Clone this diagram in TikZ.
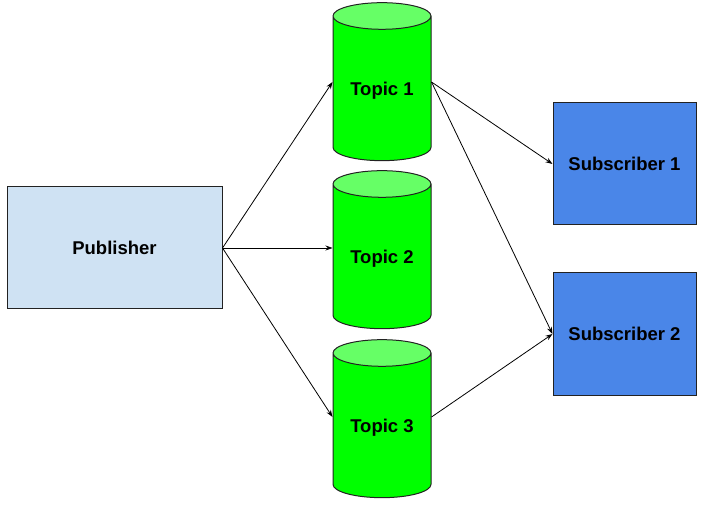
\documentclass[tikz,border=0pt]{standalone}
\usepackage{fontspec}
\setmainfont{Liberation Sans}
\usetikzlibrary{positioning,shapes.geometric,arrows.meta}
\definecolor{pubfill}{HTML}{CFE2F3}
\definecolor{subfill}{HTML}{4A86E8}
\definecolor{topicbody}{HTML}{00FF00}
\definecolor{topictop}{HTML}{66FF66}
\definecolor{edge}{HTML}{222222}
\begin{document}
\begin{tikzpicture}[x=1pt, y=1pt, node distance=12pt,
    font=\fontsize{18.5pt}{22pt}\selectfont\bfseries,
    pub/.style={rectangle, draw=edge, line width=1pt, fill=pubfill, minimum width=215pt, minimum height=122pt},
    sub/.style={rectangle, draw=edge, line width=1pt, fill=subfill, minimum width=143pt, minimum height=122pt},
    topic/.style={cylinder, shape border rotate=90, aspect=0.38, draw=edge, line width=1pt,
      cylinder uses custom fill, cylinder body fill=topicbody, cylinder end fill=topictop,
      minimum width=98pt, minimum height=158pt},
    a/.style={-{Stealth[length=7pt,width=5pt]}, line width=0.8pt}]
    \useasboundingbox (0,0) rectangle (702,-505);
    \node[pub] (P) at (114.5,-248) {Publisher};
    \node[topic] (T1) at (382,-91) {Topic 1};
    \node[topic] (T2) at (382,-259) {Topic 2};
    \node[topic] (T3) at (382,-428) {Topic 3};
    \node[sub] (S1) at (624.5,-164) {Subscriber 1};
    \node[sub, below=47pt of S1] (S2) {Subscriber 2};

    % arrows meet the cylinders a little above their centres
    \draw[a] (P.east) -- ([yshift=9pt]T1.west);
    \draw[a] (P.east) -- (P.east -| T2.west);
    \draw[a] (P.east) -- ([yshift=11pt]T3.west);
    \draw[a] ([yshift=9pt]T1.east) -- (S1.west);
    \draw[a] ([yshift=9pt]T1.east) -- (S2.west);
    \draw[a] ([yshift=11pt]T3.east) -- (S2.west);
\end{tikzpicture}
\end{document}
